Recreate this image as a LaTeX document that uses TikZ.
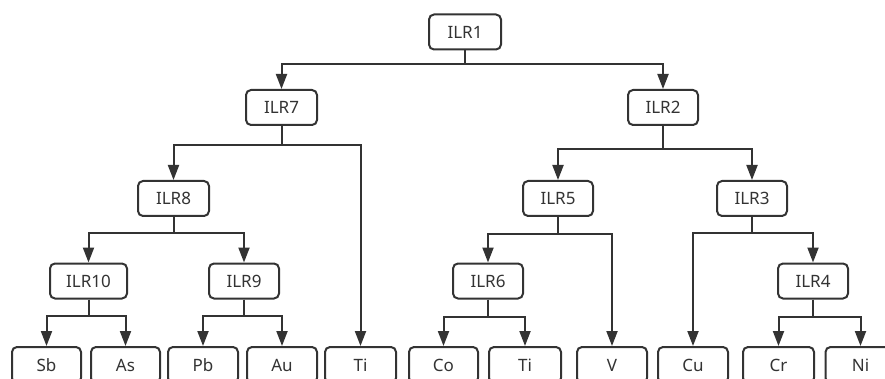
\documentclass[tikz,border=0pt]{standalone}
\usepackage{fontspec}
\setmainfont{Noto Sans}
\usetikzlibrary{arrows.meta}
\definecolor{ink}{HTML}{333333}
\tikzset{
  box/.style={draw=ink, line width=2pt, rounded corners=5pt, minimum height=35pt,
    minimum width=70pt, inner sep=0pt, text=ink, font=\fontsize{17}{20}\selectfont},
  leaf/.style={box, minimum height=36pt},
  conn/.style={draw=ink, line width=2pt, -{Triangle[length=15pt,width=11pt]}},
}
\begin{document}
\begin{tikzpicture}[x=1pt,y=-1pt]
\useasboundingbox (0,0) rectangle (885,379);
\clip (0,0) rectangle (885,379);
% internal nodes
\node[box, minimum width=72pt] (ILR1) at (465,32) {ILR1};
\node[box, minimum width=71pt] (ILR7) at (281.5,107.5) {ILR7};
\node[box] (ILR2) at (663,107.5) {ILR2};
\node[box, minimum width=71pt] (ILR8) at (173.5,198.5) {ILR8};
\node[box] (ILR5) at (558,198.5) {ILR5};
\node[box] (ILR3) at (752,198.5) {ILR3};
\node[box, minimum width=77pt] (ILR10) at (88.5,281) {ILR10};
\node[box] (ILR9) at (244,281) {ILR9};
\node[box] (ILR6) at (488,281) {ILR6};
\node[box] (ILR4) at (813,281) {ILR4};
% leaves
\node[leaf, minimum width=69pt] (Sb) at (46.5,365) {Sb};
\node[leaf, minimum width=69pt] (As) at (125.5,365) {As};
\node[leaf] (Pb) at (203,365) {Pb};
\node[leaf] (Au) at (282,365) {Au};
\node[leaf, minimum width=71pt] (Ti) at (360.5,365) {Ti};
\node[leaf, minimum width=69pt] (Co) at (443.5,365) {Co};
\node[leaf, minimum width=72pt] (Ti2) at (525,365) {Ti};
\node[leaf] (V) at (612,365) {V};
\node[leaf] (Cu) at (693,365) {Cu};
\node[leaf, minimum width=71pt] (Cr) at (778.5,365) {Cr};
\node[leaf] (Ni) at (860.5,365) {Ni};
% connectors
\draw[conn] (ILR1.south) -- ++(0,14) -| (ILR7.north);
\draw[conn] (ILR1.south) -- ++(0,14) -| (ILR2.north);
\draw[conn] (ILR7.south) -- ++(0,19) -| (ILR8.north);
\draw[conn] (ILR7.south) -- ++(0,19) -| (Ti.north);
\draw[conn] (ILR2.south) -- ++(0,23) -| (ILR5.north);
\draw[conn] (ILR2.south) -- ++(0,23) -| (ILR3.north);
\draw[conn] (ILR8.south) -- ++(0,16) -| (ILR10.north);
\draw[conn] (ILR8.south) -- ++(0,16) -| (ILR9.north);
\draw[conn] (ILR5.south) -- ++(0,17) -| (ILR6.north);
\draw[conn] (ILR5.south) -- ++(0,17) -| (V.north);
\draw[conn] (ILR3.south) -- ++(0,16) -| (Cu.north);
\draw[conn] (ILR3.south) -- ++(0,16) -| (ILR4.north);
\draw[conn] (ILR10.south) -- ++(0,16) -| (Sb.north);
\draw[conn] (ILR10.south) -- ++(0,16) -| (As.north);
\draw[conn] (ILR9.south) -- ++(0,16) -| (Pb.north);
\draw[conn] (ILR9.south) -- ++(0,16) -| (Au.north);
\draw[conn] (ILR6.south) -- ++(0,17) -| (Co.north);
\draw[conn] (ILR6.south) -- ++(0,17) -| (Ti2.north);
\draw[conn] (ILR4.south) -- ++(0,17) -| (Cr.north);
\draw[conn] (ILR4.south) -- ++(0,17) -| (Ni.north);
\end{tikzpicture}
\end{document}
